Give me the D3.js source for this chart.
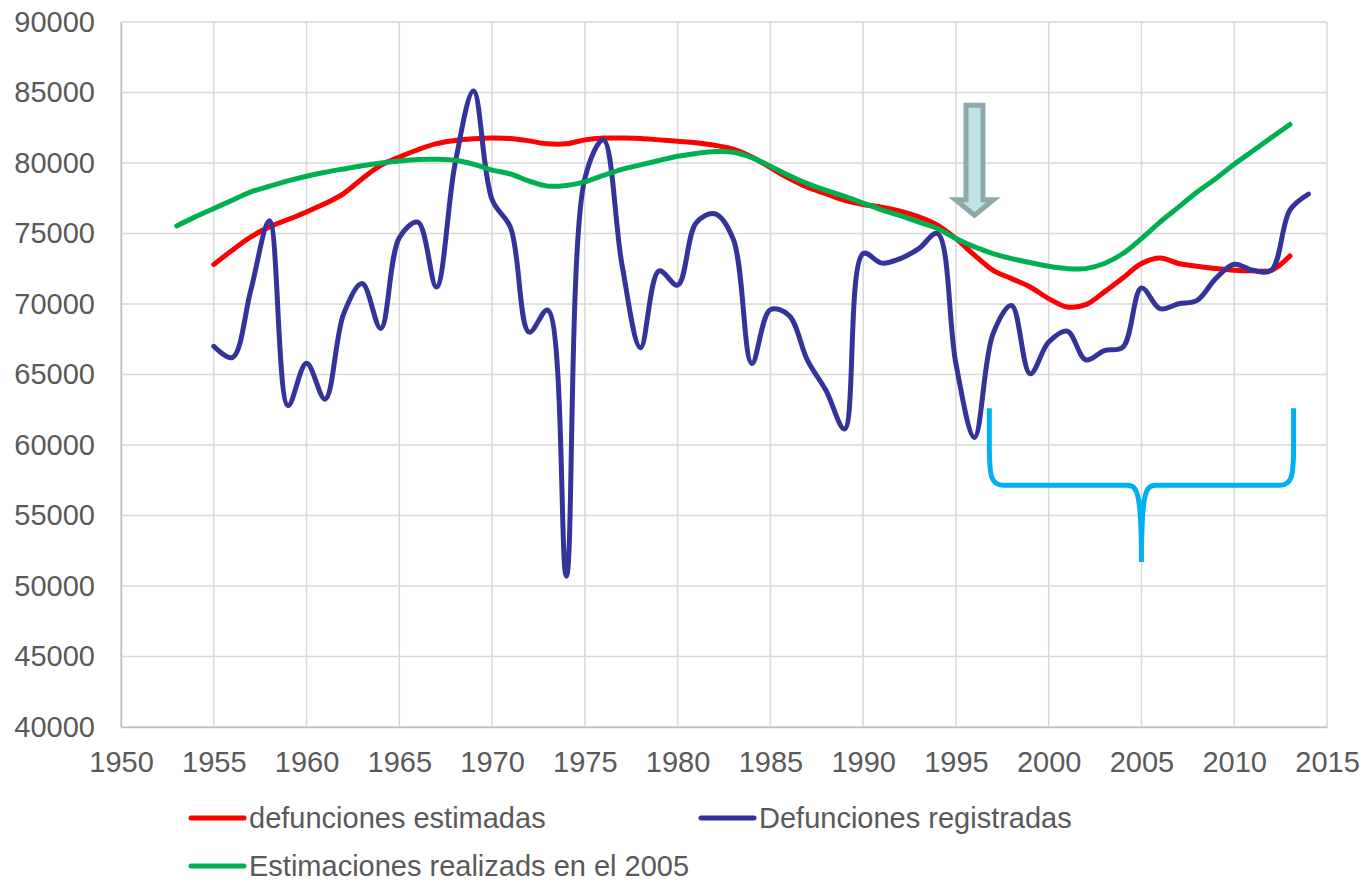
<!DOCTYPE html>
<html>
<head>
<meta charset="utf-8">
<script src="https://cdn.jsdelivr.net/npm/d3@7"></script>
<style>
  html, body { margin: 0; padding: 0; background: #fff; }
  svg { display: block; font-family: "Liberation Sans", Arial, sans-serif; }
</style>
</head>
<body>
<svg id="chart" width="1369" height="882"></svg>
<script>
// ---- Data ----
const yTicks = [40000, 45000, 50000, 55000, 60000, 65000, 70000, 75000, 80000, 85000, 90000];
const xTicks = [1950, 1955, 1960, 1965, 1970, 1975, 1980, 1985, 1990, 1995, 2000, 2005, 2010, 2015];

const seriesNames = ["defunciones estimadas", "Defunciones registradas", "Estimaciones realizads en el 2005"];

const yearsEstimadas = d3.range(1955, 2014);
const estimadas = [72800, 73820, 74760, 75470, 75990, 76530, 77120, 77830, 78890, 79830,
  80420, 80940, 81370, 81600, 81720, 81780,
  81740, 81570, 81360, 81360, 81640, 81770, 81770, 81740, 81640, 81540, 81440, 81260, 80980, 80430, 79670, 78910, 78280,
  77820, 77350, 77060, 76870, 76590, 76180, 75590, 74640, 73460, 72390, 71800, 71210, 70380, 69790, 69950, 70860,
  71850, 72870, 73270, 72870, 72680, 72510, 72390, 72350, 72390, 73410];

const yearsRegistradas = d3.range(1955, 2015);
const registradas = [67000, 66200, 71000, 75900, 62800, 65800, 63250, 69300, 71450, 68270,
  74700, 75800, 71200, 79900, 85100, 77400, 75400, 68000, 69570, 50700,
  78900, 81640, 72800, 66900, 72350, 71340, 75760, 76400, 74600, 65780,
  69600, 69200, 66000, 63860, 61140, 73580, 72900, 73220, 73930, 75000,
  65760, 60540, 67890, 69900, 65050, 67300, 68080, 66040, 66700, 66940,
  71140, 69670, 70020, 70260, 71800, 72820, 72390, 72390, 76660, 77800];

const yearsEst2005 = d3.range(1953, 2014);
const est2005 = [75540, 76180, 76770, 77360, 77950, 78350, 78730, 79060, 79340, 79580,
  79810, 80000, 80140, 80240, 80260, 80190, 79910, 79500,
  79220, 78710, 78360, 78410, 78660, 79120, 79550, 79870, 80180, 80480, 80680, 80810, 80760, 80380, 79770, 79120, 78540,
  78060, 77630, 77160, 76680, 76260, 75810, 75360, 74640, 74050, 73580, 73220, 72940, 72680, 72510, 72510, 72870,
  73580, 74640, 75810, 76870, 77940, 78890, 79910, 80850, 81800, 82730];

// annotations (data coordinates)
const arrowYear = 1996, arrowTop = 84100, arrowHeadBase = 77400, arrowTip = 76300;
const braceStart = 1996.8, braceMid = 2005, braceEnd = 2013.2;
const braceTop = 62600, braceBar = 57150, braceTip = 51700;

// ---- Layout ----
const svg = d3.select("#chart");
const margin = {left: 121, top: 22, right: 42, bottom: 155};
const W = 1369, H = 882;
const x = d3.scaleLinear().domain([1950, 2015]).range([margin.left, W - margin.right]);
const y = d3.scaleLinear().domain([40000, 90000]).range([H - margin.bottom, margin.top]);

const textColor = "#595959";
const gridColor = "#d9d9d9";
const fontSize = 29;

// gridlines
svg.append("g").selectAll("line").data(yTicks).join("line")
  .attr("x1", x(1950)).attr("x2", x(2015))
  .attr("y1", d => y(d)).attr("y2", d => y(d))
  .attr("stroke", gridColor).attr("stroke-width", 1.5);
svg.append("g").selectAll("line").data(xTicks).join("line")
  .attr("x1", d => x(d)).attr("x2", d => x(d))
  .attr("y1", y(40000)).attr("y2", y(90000))
  .attr("stroke", gridColor).attr("stroke-width", 1.5);

// axes
const yAxis = d3.axisLeft(y).tickValues(yTicks).tickSize(0).tickPadding(26).tickFormat(d3.format("d"));
const gy = svg.append("g").attr("transform", `translate(${x(1950)},0)`).call(yAxis);
gy.select(".domain").attr("stroke", "#bfbfbf").attr("stroke-width", 1.5);
gy.selectAll("text").attr("fill", textColor).attr("font-size", fontSize)
  .attr("font-family", "Liberation Sans, Arial, sans-serif");

const xAxis = d3.axisBottom(x).tickValues(xTicks).tickSize(0).tickPadding(24).tickFormat(d3.format("d"));
const gx = svg.append("g").attr("transform", `translate(0,${y(40000)})`).call(xAxis);
gx.select(".domain").attr("stroke", "#bfbfbf").attr("stroke-width", 1.5);
gx.selectAll("text").attr("fill", textColor).attr("font-size", fontSize)
  .attr("font-family", "Liberation Sans, Arial, sans-serif");

// lines
const colors = ["#ff0000", "#333399", "#00b050"];
const line = d3.line().x(d => x(d[0])).y(d => y(d[1])).curve(d3.curveCatmullRom.alpha(0.5));
const series = [
  d3.zip(yearsEstimadas, estimadas),
  d3.zip(yearsRegistradas, registradas),
  d3.zip(yearsEst2005, est2005)
];
series.forEach((s, i) => {
  svg.append("path").datum(s).attr("d", line)
    .attr("fill", "none").attr("stroke", colors[i]).attr("stroke-width", 5)
    .attr("stroke-linecap", "round").attr("stroke-linejoin", "round");
});

// arrow annotation
const ax = x(arrowYear);
const sw = 8.5, hw = 19;
const arrowPath = `M${ax - sw},${y(arrowTop)} L${ax + sw},${y(arrowTop)} L${ax + sw},${y(arrowHeadBase)} L${ax + hw},${y(arrowHeadBase)} L${ax},${y(arrowTip)} L${ax - hw},${y(arrowHeadBase)} L${ax - sw},${y(arrowHeadBase)} Z`;
svg.append("path").attr("d", arrowPath)
  .attr("fill", "#bfe3e6").attr("stroke", "#8fa8a9").attr("stroke-width", 5).attr("stroke-linejoin", "miter");

// brace annotation
const xl = x(braceStart), xm = x(braceMid), xr = x(braceEnd);
const yt = y(braceTop), yb = y(braceBar), ytip = y(braceTip);
const bracePath =
  `M${xl},${yt} L${xl},${yb - 40} C${xl},${yb - 8} ${xl + 2},${yb} ${xl + 14},${yb} ` +
  `L${xm - 14},${yb} C${xm - 4},${yb} ${xm},${yb + 8} ${xm},${ytip} ` +
  `M${xm},${ytip} C${xm},${yb + 8} ${xm + 4},${yb} ${xm + 14},${yb} ` +
  `L${xr - 14},${yb} C${xr - 2},${yb} ${xr},${yb - 8} ${xr},${yb - 40} L${xr},${yt}`;
svg.append("path").attr("d", bracePath)
  .attr("fill", "none").attr("stroke", "#00b0f0").attr("stroke-width", 5).attr("stroke-linejoin", "round");

// legend
const legendItems = [
  {name: seriesNames[0], color: colors[0], lx: 191, ly: 818},
  {name: seriesNames[1], color: colors[1], lx: 701, ly: 818},
  {name: seriesNames[2], color: colors[2], lx: 191, ly: 866}
];
const lg = svg.append("g");
legendItems.forEach(it => {
  lg.append("line").attr("x1", it.lx).attr("x2", it.lx + 53).attr("y1", it.ly).attr("y2", it.ly)
    .attr("stroke", it.color).attr("stroke-width", 5).attr("stroke-linecap", "round");
  lg.append("text").attr("x", it.lx + 58).attr("y", it.ly + 10)
    .attr("fill", textColor).attr("font-size", fontSize).text(it.name);
});
</script>
</body>
</html>
